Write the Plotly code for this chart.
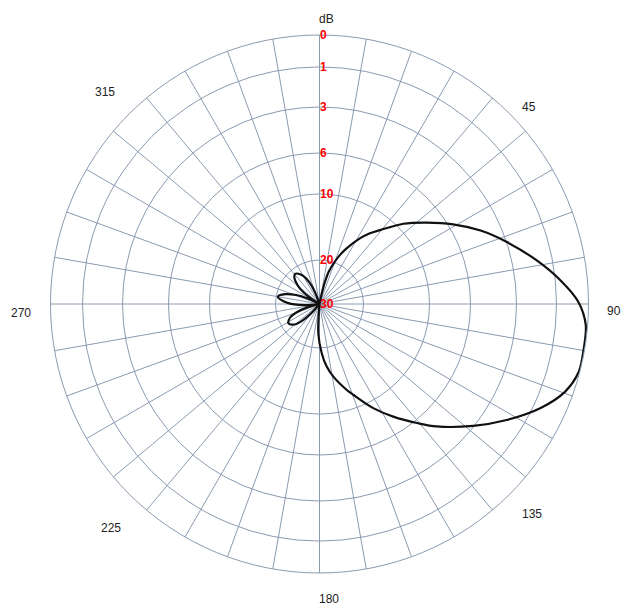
import numpy as np
import plotly.graph_objects as go

# Radial scale: dB rings and their relative radius on the chart
RING_DB = [0, 1, 3, 6, 10, 20, 30]
RING_FRAC = [269 / 269, 237 / 269, 197 / 269, 151 / 269, 110 / 269, 44 / 269, 0.0]
RING_LABELS = ["0", "1", "3", "6", "10", "20", "30"]

# Angular labels
ANG_TICKS = [0, 45, 90, 135, 180, 225, 270, 315]
ANG_LABELS = ["dB", "45", "90", "135", "180", "225", "270", "315"]
SPOKES = list(range(0, 360, 10))

# Radiation pattern: angle (deg, clockwise from top) and attenuation (dB below max)
PATTERN_DEG = [0, 11, 12.5, 14, 16, 20, 22.7, 26, 31.6, 35.5, 39.3, 46.3, 52.8, 59.2,
               65.5, 71.6, 78.5, 84.3, 89.5, 94.5, 100, 104.6, 109.7, 115.3, 121.8,
               128.4, 136.3, 140.4, 146.8, 152.7, 159.6, 162.4, 169.3, 173.6, 177.4,
               182.3, 186,
               218, 222, 226, 231, 238, 245, 250, 254, 258,
               261, 265, 269, 274, 280, 286, 291, 295, 299,
               300, 304, 308, 313, 317, 321, 325, 330, 335, 339, 343, 360]
PATTERN_DB = [30, 30, 27, 24.6, 22.3, 19.8, 18.6, 17.3, 15.0, 13.5, 12.2, 9.4, 7.6, 5.7,
              4.3, 3.0, 1.8, 0.85, 0.32, 0.06, 0.03, 0.03, 0.26, 0.78, 1.84,
              3.05, 4.8, 5.75, 7.6, 9.3, 12.0, 13.0, 15.5, 17.2, 19.2,
              23.3, 30,
              30, 27, 24.5, 22.6, 21.7, 22.6, 24.5, 27, 30,
              30, 27, 24.3, 21.9, 20.4, 21.9, 24.3, 27, 30,
              30, 27, 24.5, 22.6, 21.6, 21.2, 21.6, 22.6, 24.5, 27, 30, 30]


def to_radius(db):
    return np.interp(np.asarray(db, dtype=float), RING_DB, RING_FRAC)


GRID = "#8a9bb0"
PAGE_OFFSET = 8          # page body margin in the browser
cx, cy, R = 319.5 - PAGE_OFFSET, 304 - PAGE_OFFSET, 269
W, H = 634, 609
dom_x = [(cx - R) / W, (cx + R) / W]
dom_y = [(H - (cy + R)) / H, (H - (cy - R)) / H]

fig = go.Figure()
fig.add_trace(go.Scatterpolar(
    r=to_radius(PATTERN_DB), theta=PATTERN_DEG, mode="lines",
    line=dict(color="#111111", width=2.2, shape="spline", smoothing=0.9),
    subplot="polar", hoverinfo="skip", showlegend=False))

# angle labels around the outer ring
annotations = []
for ang, txt in zip(ANG_TICKS, ANG_LABELS):
    a = np.radians(ang)
    s, c = np.sin(a), np.cos(a)
    if s > -0.01:                       # right half, incl. top and bottom
        rl, ox, oy = R + 19, -3, -2.5
        if c > 0.9:
            oy -= 4
        xanchor, yanchor = "left", "top"
    else:                               # left half
        rl, ox, oy = R + 18, 0, 0
        xanchor = "right"
        yanchor = "bottom" if c > 0.3 else "top"
        if c < -0.3:
            ox, oy = 6, 12
    px = cx + rl * s + ox
    py = cy - rl * c + oy
    annotations.append(dict(
        x=px / W, y=1 - py / H, xref="paper", yref="paper", text=txt, showarrow=False,
        xanchor=xanchor, yanchor=yanchor,
        font=dict(family="Liberation Sans", size=12, color="#222222")))

fig.update_layout(
    width=W, height=H, margin=dict(l=0, r=0, t=0, b=0),
    paper_bgcolor="white", showlegend=False,
    annotations=annotations,
    polar=dict(
        domain=dict(x=dom_x, y=dom_y), bgcolor="white",
        radialaxis=dict(range=[0, 1], tickmode="array",
                        tickvals=list(to_radius(RING_DB)), ticktext=RING_LABELS,
                        angle=90, side="clockwise", tickangle=90, showline=False, ticks="",
                        gridcolor=GRID, gridwidth=1,
                        tickfont=dict(family="Liberation Sans", size=12, color="#ff0000",
                                      weight="bold")),
        angularaxis=dict(rotation=90, direction="clockwise", tickmode="array",
                         tickvals=SPOKES, showticklabels=False, ticks="",
                         gridcolor=GRID, gridwidth=1, showline=True,
                         linecolor=GRID, linewidth=1),
    ),
)

fig.write_html("out.html")
